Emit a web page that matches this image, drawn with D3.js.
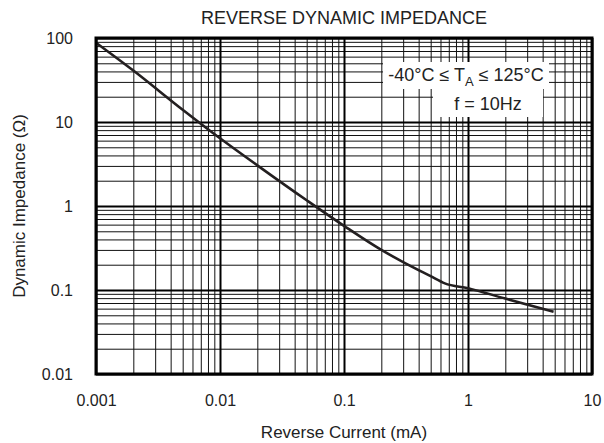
<!DOCTYPE html>
<html>
<head>
<meta charset="utf-8">
<script src="https://cdn.jsdelivr.net/npm/d3@7"></script>
<style>
  html, body { margin: 0; padding: 0; background: #fff; }
  svg { display: block; font-family: "Liberation Sans", Arial, sans-serif; }
</style>
</head>
<body>
<svg id="chart" width="604" height="443"></svg>
<script>
// ---- data ----
const title = "REVERSE DYNAMIC IMPEDANCE";
const xLabel = "Reverse Current (mA)";
const yLabel = "Dynamic Impedance (\u03A9)";
const xTicks = [0.001, 0.01, 0.1, 1, 10];
const xTickLabels = ["0.001", "0.01", "0.1", "1", "10"];
const yTicks = [0.01, 0.1, 1, 10, 100];
const yTickLabels = ["0.01", "0.1", "1", "10", "100"];
const current   = [0.001, 0.002, 0.005, 0.01, 0.02, 0.05, 0.1, 0.2, 0.3, 0.5, 0.65, 1, 2, 4.9];
const impedance = [88, 41, 14, 6.4, 3.05, 1.17, 0.58, 0.3, 0.215, 0.146, 0.12, 0.105, 0.079, 0.055];

// ---- layout ----
const svg = d3.select("#chart");
const L = 96, R = 592, T = 38, B = 374;
const x = d3.scaleLog().domain([xTicks[0], xTicks[xTicks.length - 1]]).range([L, R]);
const y = d3.scaleLog().domain([yTicks[0], yTicks[yTicks.length - 1]]).range([B, T]);

const minorX = [], minorY = [];
for (let i = 0; i < xTicks.length - 1; i++) for (let k = 2; k <= 9; k++) minorX.push(xTicks[i] * k);
for (let i = 0; i < yTicks.length - 1; i++) for (let k = 2; k <= 9; k++) minorY.push(yTicks[i] * k);

const grid = svg.append("g");
// minor grid via axes
grid.append("g").attr("transform", `translate(0,${B})`)
  .call(d3.axisBottom(x).tickValues(minorX).tickSize(-(B - T)).tickFormat(""))
  .call(g => g.select(".domain").remove())
  .call(g => g.selectAll("line").attr("stroke", "#111").attr("stroke-width", 1));
grid.append("g").attr("transform", `translate(${L},0)`)
  .call(d3.axisLeft(y).tickValues(minorY).tickSize(-(R - L)).tickFormat(""))
  .call(g => g.select(".domain").remove())
  .call(g => g.selectAll("line").attr("stroke", "#111").attr("stroke-width", 1));
// major grid
grid.append("g").attr("transform", `translate(0,${B})`)
  .call(d3.axisBottom(x).tickValues(xTicks).tickSize(-(B - T)).tickFormat(""))
  .call(g => g.select(".domain").remove())
  .call(g => g.selectAll("line").attr("stroke", "#000").attr("stroke-width", 2));
grid.append("g").attr("transform", `translate(${L},0)`)
  .call(d3.axisLeft(y).tickValues(yTicks).tickSize(-(R - L)).tickFormat(""))
  .call(g => g.select(".domain").remove())
  .call(g => g.selectAll("line").attr("stroke", "#000").attr("stroke-width", 2));

// legend box (white background)
const leg = svg.append("g");
leg.append("rect").attr("x", 383).attr("y", 62).attr("width", 166).attr("height", 27).attr("fill", "#fff");
leg.append("rect").attr("x", 433).attr("y", 89).attr("width", 110).attr("height", 28).attr("fill", "#fff");
const t1 = leg.append("text").attr("x", 466).attr("y", 81).attr("text-anchor", "middle")
  .attr("font-size", 18).attr("fill", "#222");
t1.append("tspan").text("-40\u00B0C \u2264 T");
t1.append("tspan").attr("font-size", 13).attr("dy", 5).text("A");
t1.append("tspan").attr("dy", -5).text(" \u2264 125\u00B0C");
leg.append("text").attr("x", 488).attr("y", 110).attr("text-anchor", "middle")
  .attr("font-size", 18).attr("fill", "#222").text("f = 10Hz");

// curve
const line = d3.line().x(d => x(d[0])).y(d => y(d[1])).curve(d3.curveMonotoneX);
svg.append("path").datum(current.map((c, i) => [c, impedance[i]]))
  .attr("d", line).attr("fill", "none").attr("stroke", "#231f20").attr("stroke-width", 2.6);

// frame
svg.append("rect").attr("x", L).attr("y", T).attr("width", R - L).attr("height", B - T)
  .attr("fill", "none").attr("stroke", "#000").attr("stroke-width", 3);

// tick labels via axes
svg.append("g").attr("transform", `translate(0,${B + 18})`)
  .call(d3.axisBottom(x).tickValues(xTicks).tickSize(0).tickFormat((d, i) => xTickLabels[i]))
  .call(g => g.select(".domain").remove())
  .call(g => g.selectAll("text").attr("font-size", 16).attr("fill", "#222").attr("font-family", "Liberation Sans, Arial, sans-serif"));
svg.append("g").attr("transform", `translate(${L - 20},0)`)
  .call(d3.axisLeft(y).tickValues(yTicks).tickSize(0).tickFormat((d, i) => yTickLabels[i]))
  .call(g => g.select(".domain").remove())
  .call(g => g.selectAll("text").attr("font-size", 16).attr("fill", "#222").attr("font-family", "Liberation Sans, Arial, sans-serif"));

// titles
svg.append("text").attr("x", (L + R) / 2).attr("y", 24).attr("text-anchor", "middle")
  .attr("font-size", 18).attr("fill", "#222").text(title);
svg.append("text").attr("x", (L + R) / 2).attr("y", 438).attr("text-anchor", "middle")
  .attr("font-size", 17).attr("fill", "#222").text(xLabel);
svg.append("text").attr("transform", `translate(25,${(T + B) / 2}) rotate(-90)`).attr("text-anchor", "middle")
  .attr("font-size", 17).attr("fill", "#222").text(yLabel);
</script>
</body>
</html>
